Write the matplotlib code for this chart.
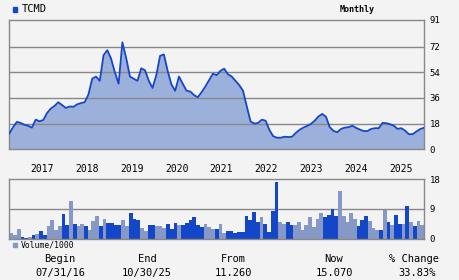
import numpy as np
import matplotlib
matplotlib.use('Agg')
import matplotlib.pyplot as plt

# monthly closes, 07/2016 .. 10/2025
price = [11.1, 15.5, 19.2, 18.5, 17.2, 16.5, 15.2, 20.8, 19.6, 20.5,
         25.4, 28.5, 30.4, 33.0, 31.0, 29.0, 30.0, 29.8, 31.5, 32.4,
         33.0, 38.5, 49.5, 51.0, 48.0, 66.0, 69.5, 63.5, 54.0, 46.0,
         75.0, 64.0, 51.0, 49.5, 48.0, 56.8, 55.4, 48.0, 43.0, 52.0,
         65.5, 66.5, 55.0, 45.5, 41.0, 51.0, 46.0, 41.1, 40.5, 38.0,
         36.5, 40.0, 44.0, 48.5, 53.0, 52.0, 55.0, 56.5, 52.6, 51.0,
         48.0, 45.0, 41.0, 30.0, 19.5, 18.0, 18.5, 20.8, 20.0, 13.5,
         9.2, 8.1, 8.1, 8.8, 8.6, 8.8, 11.5, 13.7, 15.2, 16.4,
         17.8, 20.0, 23.0, 24.8, 22.8, 15.5, 12.9, 12.0, 14.3, 15.2,
         15.5, 16.5, 15.0, 13.8, 12.8, 12.8, 14.3, 14.8, 14.8, 18.5,
         18.3, 17.6, 16.5, 14.3, 14.8, 13.0, 10.6, 10.6, 12.5, 14.2,
         15.07]

# monthly volume / 1000
volume = [1.8, 1.2, 2.9, 0.6, 0.3, 0.6, 1.2, 1.5, 2.4, 1.2,
          3.8, 5.6, 2.6, 3.8, 7.6, 4.1, 11.5, 4.4, 3.8, 4.4,
          3.8, 2.6, 5.3, 6.8, 3.8, 5.9, 4.7, 4.7, 4.1, 4.1,
          5.6, 3.8, 7.9, 5.9, 5.6, 3.2, 2.4, 4.1, 4.1, 3.8,
          3.8, 3.2, 4.4, 2.9, 4.7, 4.1, 4.1, 4.7, 5.5, 6.4,
          4.1, 3.5, 4.4, 3.5, 2.9, 2.9, 4.4, 1.8, 2.4, 2.4,
          1.8, 2.1, 2.1, 6.9, 5.7, 8.1, 5.1, 6.6, 4.5, 2.1,
          8.4, 17.2, 5.1, 4.5, 5.1, 4.2, 4.2, 5.1, 2.7, 4.2,
          6.6, 3.6, 6.0, 7.8, 6.6, 7.2, 9.0, 6.9, 14.5, 6.9,
          5.1, 7.8, 6.0, 3.9, 5.7, 6.9, 5.4, 3.3, 2.7, 2.7,
          8.7, 5.1, 4.2, 7.2, 4.5, 4.5, 9.9, 5.1, 3.9, 5.4,
          4.2]
# 1 = dark bar, 0 = light bar
vol_dark = [0, 0, 0, 1, 1, 0, 1, 0, 1, 1,
            0, 0, 0, 0, 1, 1, 0, 1, 0, 0,
            1, 0, 0, 0, 1, 0, 1, 1, 1, 1,
            0, 0, 1, 1, 1, 0, 0, 1, 1, 0,
            0, 0, 1, 1, 1, 0, 1, 1, 1, 1,
            1, 1, 0, 0, 0, 1, 0, 0, 1, 1,
            1, 1, 1, 1, 1, 1, 1, 0, 1, 1,
            1, 1, 0, 0, 1, 1, 0, 0, 0, 0,
            0, 0, 0, 0, 1, 1, 1, 1, 0, 0,
            0, 0, 0, 1, 1, 1, 0, 0, 0, 1,
            0, 1, 0, 1, 1, 0, 1, 0, 1, 0,
            0]

years = ['2017', '2018', '2019', '2020', '2021', '2022', '2023', '2024', '2025']
price_ticks = [0, 18, 36, 54, 72, 91]
vol_ticks = [0, 9, 18]
footer_heads = ['Begin', 'End', 'From', 'Now', '% Change']
footer_vals = ['07/31/16', '10/30/25', '11.260', '15.070', '33.83%']

BG = '#f3f3f3'
GRID = '#888888'
DARK = '#1447c8'
LIGHT = '#8698c6'
FILL = '#9cb0dc'
MONO = 'DejaVu Sans Mono'

W, H = 460, 280
fig = plt.figure(figsize=(W / 100, H / 100), dpi=100, facecolor=BG)


def fx(px):
    return px / W


def fy(py):
    return 1 - py / H


n = len(volume)
left, right = 9.3, 424

# price panel
ax = fig.add_axes([fx(left), fy(149.3), fx(right - left), fy(19.5) - fy(149.3)])
ax.set_facecolor(BG)
x = np.linspace(0, n, len(price))
ax.fill_between(x, price, color=FILL, lw=0, zorder=2)
for t in price_ticks[1:-1]:
    ax.axhline(t, color=GRID, lw=1, zorder=3)
ax.plot(x, price, color=DARK, lw=1.3, zorder=4)
ax.set_xlim(0, n)
ax.set_ylim(0, 91)
ax.set_xticks([])
ax.yaxis.tick_right()
ax.set_yticks(price_ticks)
ax.set_yticklabels([str(t) for t in price_ticks], fontsize=6.5, family=MONO)
ax.tick_params(axis='y', length=0, pad=4)
for s in ax.spines.values():
    s.set_color(GRID)
    s.set_linewidth(1)

# volume panel
av = fig.add_axes([fx(left), fy(238.5), fx(right - left), fy(179.3) - fy(238.5)])
av.set_facecolor(BG)
av.axhline(9, color=GRID, lw=1, zorder=1)
cols = [DARK if d else LIGHT for d in vol_dark]
av.bar(np.arange(n), volume, width=1.0, align='edge', color=cols, lw=0, zorder=2)
av.set_xlim(0, n)
av.set_ylim(0, 18)
av.yaxis.tick_right()
av.set_yticks(vol_ticks)
av.set_yticklabels([str(t) for t in vol_ticks], fontsize=6.5, family=MONO)
av.tick_params(axis='y', length=0, pad=4)
av.xaxis.tick_top()
av.set_xticks([8.8 + 12 * i for i in range(len(years))])
av.set_xticklabels(years, fontsize=7, family=MONO)
av.tick_params(axis='x', length=0, pad=4)
for s in av.spines.values():
    s.set_color(GRID)
    s.set_linewidth(1)

# header
fig.patches.append(plt.Rectangle((fx(12.7), fy(11.5)), fx(4.5), fy(7) - fy(11.5),
                                 transform=fig.transFigure, color=DARK))
fig.text(fx(22), fy(9), 'TCMD', fontsize=7.5, family=MONO, va='center')
fig.text(fx(357), fy(9), 'Monthly', fontsize=6, family=MONO, weight='bold',
         ha='center', va='center')

# volume legend
fig.patches.append(plt.Rectangle((fx(13), fy(247)), fx(4), fy(243) - fy(247),
                                 transform=fig.transFigure, color=LIGHT))
fig.text(fx(20.5), fy(245), 'Volume/1000', fontsize=5.8, family=MONO, va='center')

# footer
centers = [60, 147, 233, 334, 414]
for cx, h, v in zip(centers, footer_heads, footer_vals):
    fig.text(fx(cx), fy(259), h, fontsize=7.5, family=MONO, ha='center', va='center')
    fig.text(fx(cx + (3 if h.startswith('%') else 0)), fy(273), v, fontsize=7.5,
             family=MONO, ha='center', va='center')

fig.savefig('out.png', dpi=100, facecolor=BG)
